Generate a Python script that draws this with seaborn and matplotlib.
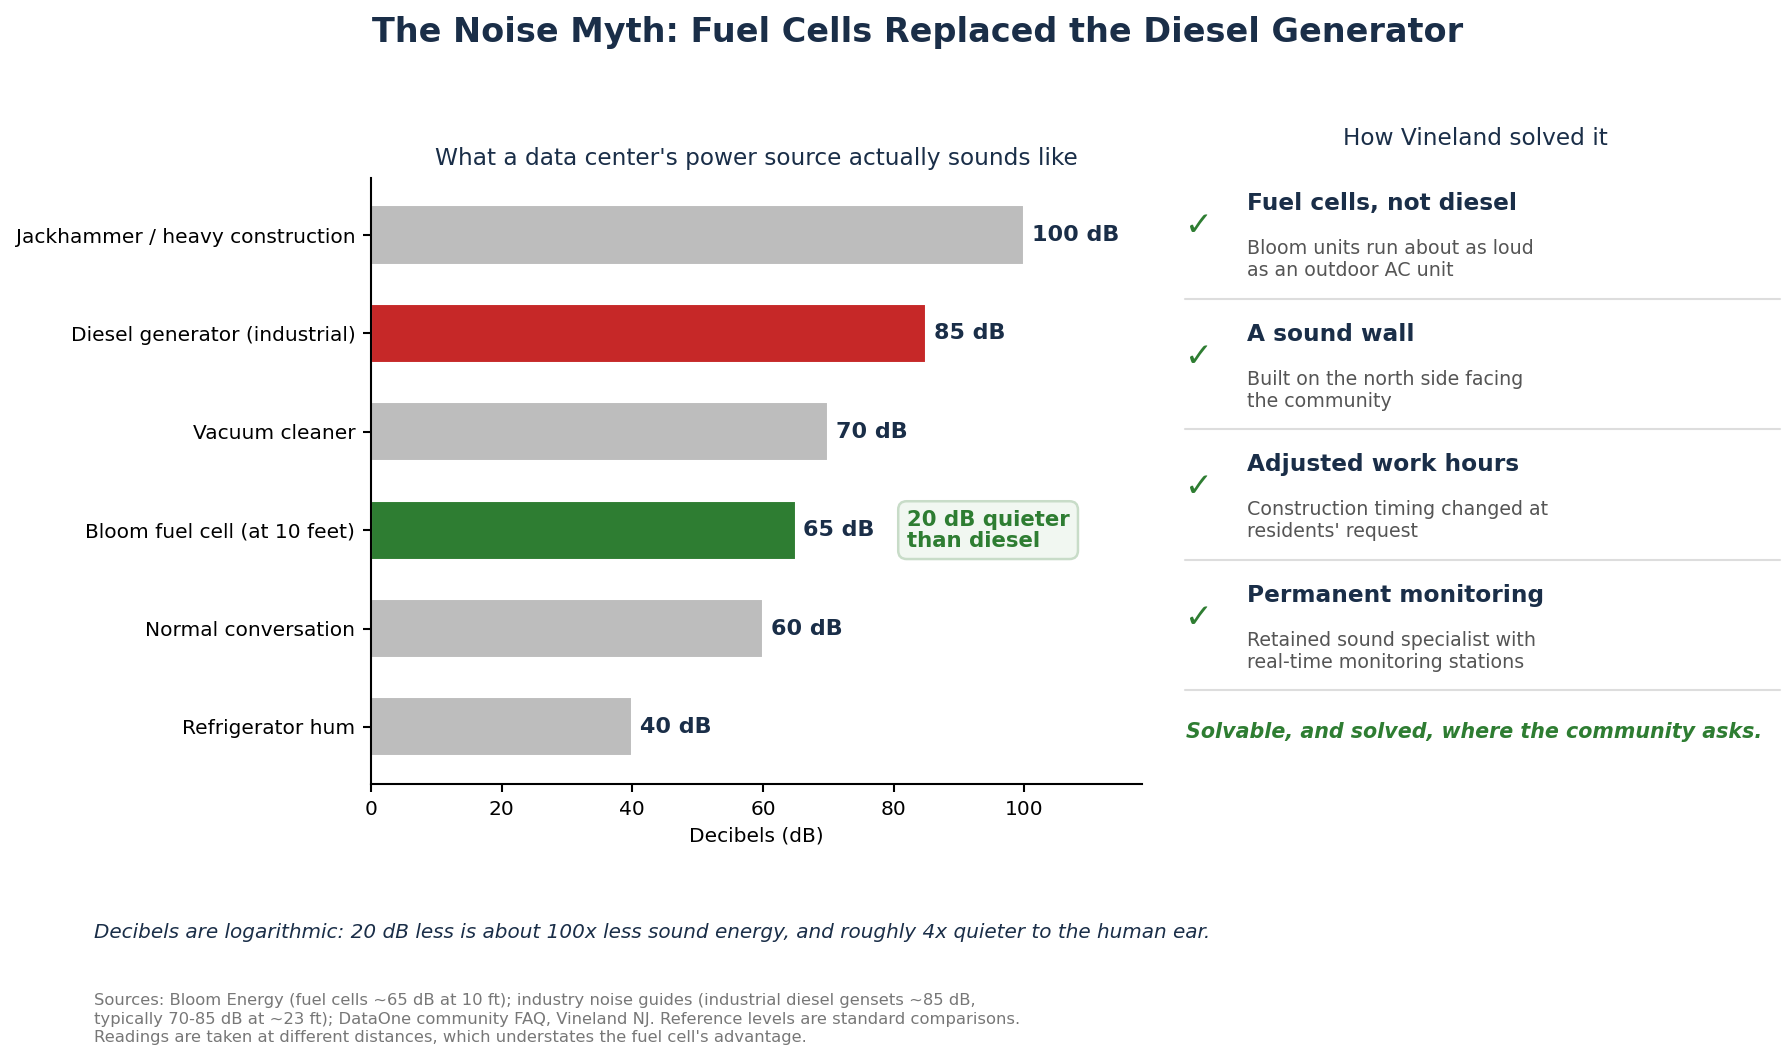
import matplotlib
matplotlib.use("Agg")
import matplotlib.pyplot as plt
import seaborn as sns
import pandas as pd
from matplotlib.lines import Line2D

# ── Data ────────────────────────────────────────────────────────────────────
SOURCES = [
    "Jackhammer / heavy construction",
    "Diesel generator (industrial)",
    "Vacuum cleaner",
    "Bloom fuel cell (at 10 feet)",
    "Normal conversation",
    "Refrigerator hum",
]
DECIBELS = [100, 85, 70, 65, 60, 40]
BAR_COLORS = ["#bdbdbd", "#c62828", "#bdbdbd", "#2e7d32", "#bdbdbd", "#bdbdbd"]

STEP_TITLES = [
    "Fuel cells, not diesel",
    "A sound wall",
    "Adjusted work hours",
    "Permanent monitoring",
]
STEP_TEXTS = [
    "Bloom units run about as loud\nas an outdoor AC unit",
    "Built on the north side facing\nthe community",
    "Construction timing changed at\nresidents' request",
    "Retained sound specialist with\nreal-time monitoring stations",
]

NAVY = "#1a2e48"
GREEN = "#2e7d32"

df = pd.DataFrame({"source": SOURCES, "db": DECIBELS})

sns.set_style("white")
plt.rcParams["font.family"] = ["DejaVu Sans"]

fig = plt.figure(figsize=(11.94, 7.067), dpi=150)
ax = fig.add_axes([0.2071, 0.2604, 0.4305, 0.5717])

sns.barplot(data=df, y="source", x="db", hue="source", palette=BAR_COLORS,
            order=SOURCES, hue_order=SOURCES, width=0.6, legend=False,
            ax=ax, saturation=1)

for i, v in enumerate(DECIBELS):
    ax.text(v + 1.2, i, f"{v} dB", va="center", ha="left",
            fontsize=10.7, fontweight="bold", color=NAVY)

ax.text(82, 3, "20 dB quieter\nthan diesel", va="center", ha="left",
        fontsize=10.2, fontweight="bold", color=GREEN, linespacing=1.05,
        bbox=dict(boxstyle="round,pad=0.4", fc="#f1f7f1", ec="#c8dcc8", lw=1.2))

ax.set_xlim(0, 118)
ax.set_ylim(5.58, -0.58)
ax.set_xticks([0, 20, 40, 60, 80, 100])
ax.set_xlabel("Decibels (dB)", fontsize=9.7, color="black")
ax.set_ylabel("")
ax.tick_params(axis="both", labelsize=9.7, length=4, width=1, left=True, bottom=True,
               labelcolor="black", color="black")
ax.set_title("What a data center's power source actually sounds like",
             fontsize=11.2, color=NAVY, pad=6)
sns.despine(ax=ax)
for s in ("left", "bottom"):
    ax.spines[s].set_color("black")
    ax.spines[s].set_linewidth(1)

fig.text(0.5125, 0.969, "The Noise Myth: Fuel Cells Replaced the Diesel Generator",
         ha="center", va="center", fontsize=16.1, fontweight="bold", color=NAVY)

# ── Right panel ─────────────────────────────────────────────────────────────
fig.text(0.8236, 0.869, "How Vineland solved it", ha="center", va="center",
         fontsize=11.2, color=NAVY)
step = 0.1231
for k, (head, body) in enumerate(zip(STEP_TITLES, STEP_TEXTS)):
    off = k * step
    fig.text(0.6695, 0.787 - off, "\u2713", ha="center", va="center",
             fontsize=16, color=GREEN)
    fig.text(0.6965, 0.808 - off, head, ha="left", va="center",
             fontsize=11.2, fontweight="bold", color=NAVY)
    fig.text(0.6965, 0.755 - off, body, ha="left", va="center",
             fontsize=9.1, color="#555555", linespacing=1.2)
    fig.add_artist(Line2D([0.6615, 0.9936], [0.718 - off, 0.718 - off],
                          transform=fig.transFigure, color="#dddddd", lw=1))

fig.text(0.662, 0.309, "Solvable, and solved, where the community asks.",
         ha="left", va="center", fontsize=9.9, fontweight="bold",
         fontstyle="italic", color=GREEN)

# ── Footnotes ───────────────────────────────────────────────────────────────
fig.text(0.0525, 0.1205,
         "Decibels are logarithmic: 20 dB less is about 100x less sound energy, "
         "and roughly 4x quieter to the human ear.",
         ha="left", va="center", fontsize=9.6, fontstyle="italic", color=NAVY)
fig.text(0.0525, 0.0385,
         "Sources: Bloom Energy (fuel cells ~65 dB at 10 ft); industry noise guides "
         "(industrial diesel gensets ~85 dB,\ntypically 70-85 dB at ~23 ft); DataOne "
         "community FAQ, Vineland NJ. Reference levels are standard comparisons.\n"
         "Readings are taken at different distances, which understates the fuel cell's advantage.",
         ha="left", va="center", fontsize=7.85, color="#777777", linespacing=1.3)

fig.savefig("out.png", dpi=150)
